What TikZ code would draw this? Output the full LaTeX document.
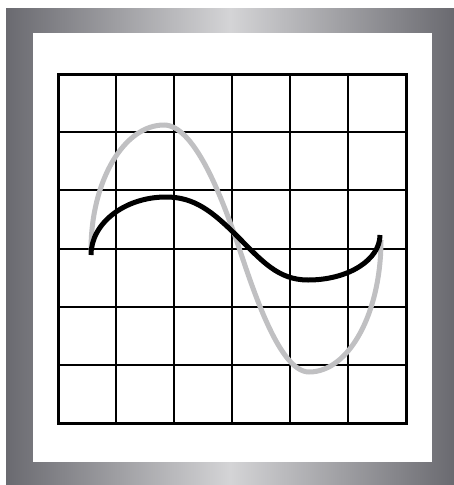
\documentclass[tikz,border=0pt]{standalone}
\usetikzlibrary{calc}
\definecolor{steel}{RGB}{106,106,112}
\definecolor{silver}{RGB}{212,212,214}
\definecolor{trace}{RGB}{192,192,194}

\begin{document}
\begin{tikzpicture}[x=1pt,y=-1pt,
    gridline/.style={line width=2pt},
    gridframe/.style={line width=3pt},
    wave/.style={line width=5pt}]
  \useasboundingbox (0,0) rectangle (454,485);
  % frame and screen
  \shade[left color=steel,right color=steel,middle color=silver] (6,8) rectangle (454,485);
  \fill[white] (33,33) rectangle (432,462);
  % grid
  \coordinate (g0) at (58,74);
  \coordinate (g1) at (406,423);
  \foreach \i in {1,...,5}{
    \draw[gridline] ($(g0)+(\i*58,0)$) -- ($(g0)+(\i*58,349)$);
    \draw[gridline] ($(g0)+(0,\i*58.17)$) -- ($(g0)+(348,\i*58.17)$);
  }
  \draw[gridframe] (g0) rectangle (g1);
  % traces
  \coordinate (s0) at (91,250);
  \coordinate (s1) at (164,125);
  \coordinate (s2) at (235,236);
  \coordinate (s3) at (309,372);
  \coordinate (s4) at (381,240);
  \coordinate (b0) at (91,255);
  \coordinate (b1) at (166,197);
  \coordinate (b2) at (237,236);
  \coordinate (b3) at (308,280);
  \coordinate (b4) at (380,235);
  \draw[wave,trace] (s0) .. controls +(0,-69) and +(-40,0) .. (s1)
    .. controls +(30,0) and +(-14,-40) .. (s2)
    .. controls +(14,40) and +(-32,0) .. (s3)
    .. controls +(40,0) and +(0,73) .. (s4);
  \draw[wave] (b0) .. controls +(0,-32) and +(-41,0) .. (b1)
    .. controls +(28,0) and +(-25,-25) .. (b2)
    .. controls +(25,25) and +(-30,0) .. (b3)
    .. controls +(40,0) and +(0,25) .. (b4);
\end{tikzpicture}
\end{document}
